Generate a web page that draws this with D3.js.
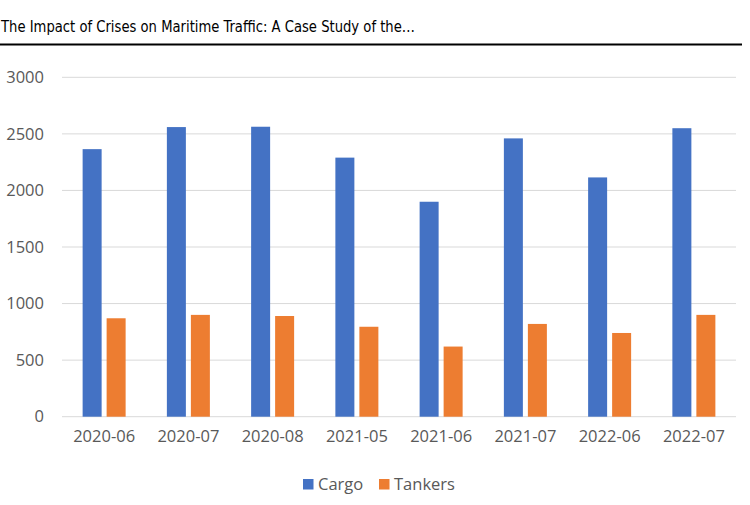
<!DOCTYPE html>
<html><head><meta charset="utf-8">
<script src="https://cdn.jsdelivr.net/npm/d3@7"></script>
<style>body{margin:0;background:#fff}svg{display:block}</style>
</head><body>
<script>
const categories = ["2020-06","2020-07","2020-08","2021-05","2021-06","2021-07","2022-06","2022-07"];
const seriesNames = ["Cargo","Tankers"];
const cargo = [2365,2560,2563,2290,1900,2460,2115,2550];
const tankers = [870,900,890,795,620,820,740,900];
const yTicks = [0,500,1000,1500,2000,2500,3000];
const colors = ["#4472C4","#ED7D31"];

const W=750,H=505;
const svg=d3.select("body").append("svg").attr("width",W).attr("height",H);

svg.append("text").attr("x",1).attr("y",32)
  .style("font-family","'DejaVu Sans Condensed','Liberation Sans Narrow',sans-serif")
  .style("font-stretch","condensed")
  .style("font-size","15px").attr("fill","#000")
  .attr("textLength",414).attr("lengthAdjust","spacingAndGlyphs")
  .text("The Impact of Crises on Maritime Traffic: A Case Study of the…");
svg.append("line").attr("x1",0).attr("x2",742).attr("y1",44.5).attr("y2",44.5)
  .attr("stroke","#000").attr("stroke-width",2);

const x=d3.scaleBand().domain(categories).range([62,736]);
const y=d3.scaleLinear().domain([0,3000]).range([416.7,77.3]);

const g=svg.append("g");
g.selectAll("line.grid").data(yTicks).join("line").attr("class","grid")
  .attr("x1",62).attr("x2",736).attr("y1",d=>y(d)).attr("y2",d=>y(d))
  .attr("stroke","#d9d9d9").attr("stroke-width",1);

const font="'Open Sans',sans-serif";
const yAxis=d3.axisLeft(y).tickValues(yTicks).tickFormat(d3.format("d")).tickSize(0).tickPadding(0);
const ya=svg.append("g").attr("transform","translate(44,0)").call(yAxis);
ya.select(".domain").remove();
ya.selectAll("text").style("font-family",font).style("font-size","16.5px").attr("fill","#595959");

const xAxis=d3.axisBottom(x).tickSize(0).tickPadding(0);
const xa=svg.append("g").attr("transform","translate(0,430)").call(xAxis);
xa.select(".domain").remove();
xa.selectAll("text").style("font-family",font).style("font-size","16.5px").attr("fill","#595959");

const bw=19, gap=5;
const data=[cargo,tankers];
data.forEach((arr,si)=>{
  svg.append("g").selectAll("rect").data(arr).join("rect")
    .attr("x",(d,i)=>x(categories[i])+x.bandwidth()/2-(bw+gap/2)+si*(bw+gap))
    .attr("width",bw)
    .attr("y",d=>y(d)).attr("height",d=>y(0)-y(d))
    .attr("fill",colors[si]);
});

const leg=svg.append("g");
const legX=[303,379];
seriesNames.forEach((n,i)=>{
  leg.append("rect").attr("x",legX[i]).attr("y",479).attr("width",10.5).attr("height",10.5).attr("fill",colors[i]);
  leg.append("text").attr("x",legX[i]+15).attr("y",490).text(n)
    .style("font-family",font).style("font-size","16.5px").attr("fill","#595959");
});
</script>
</body></html>
